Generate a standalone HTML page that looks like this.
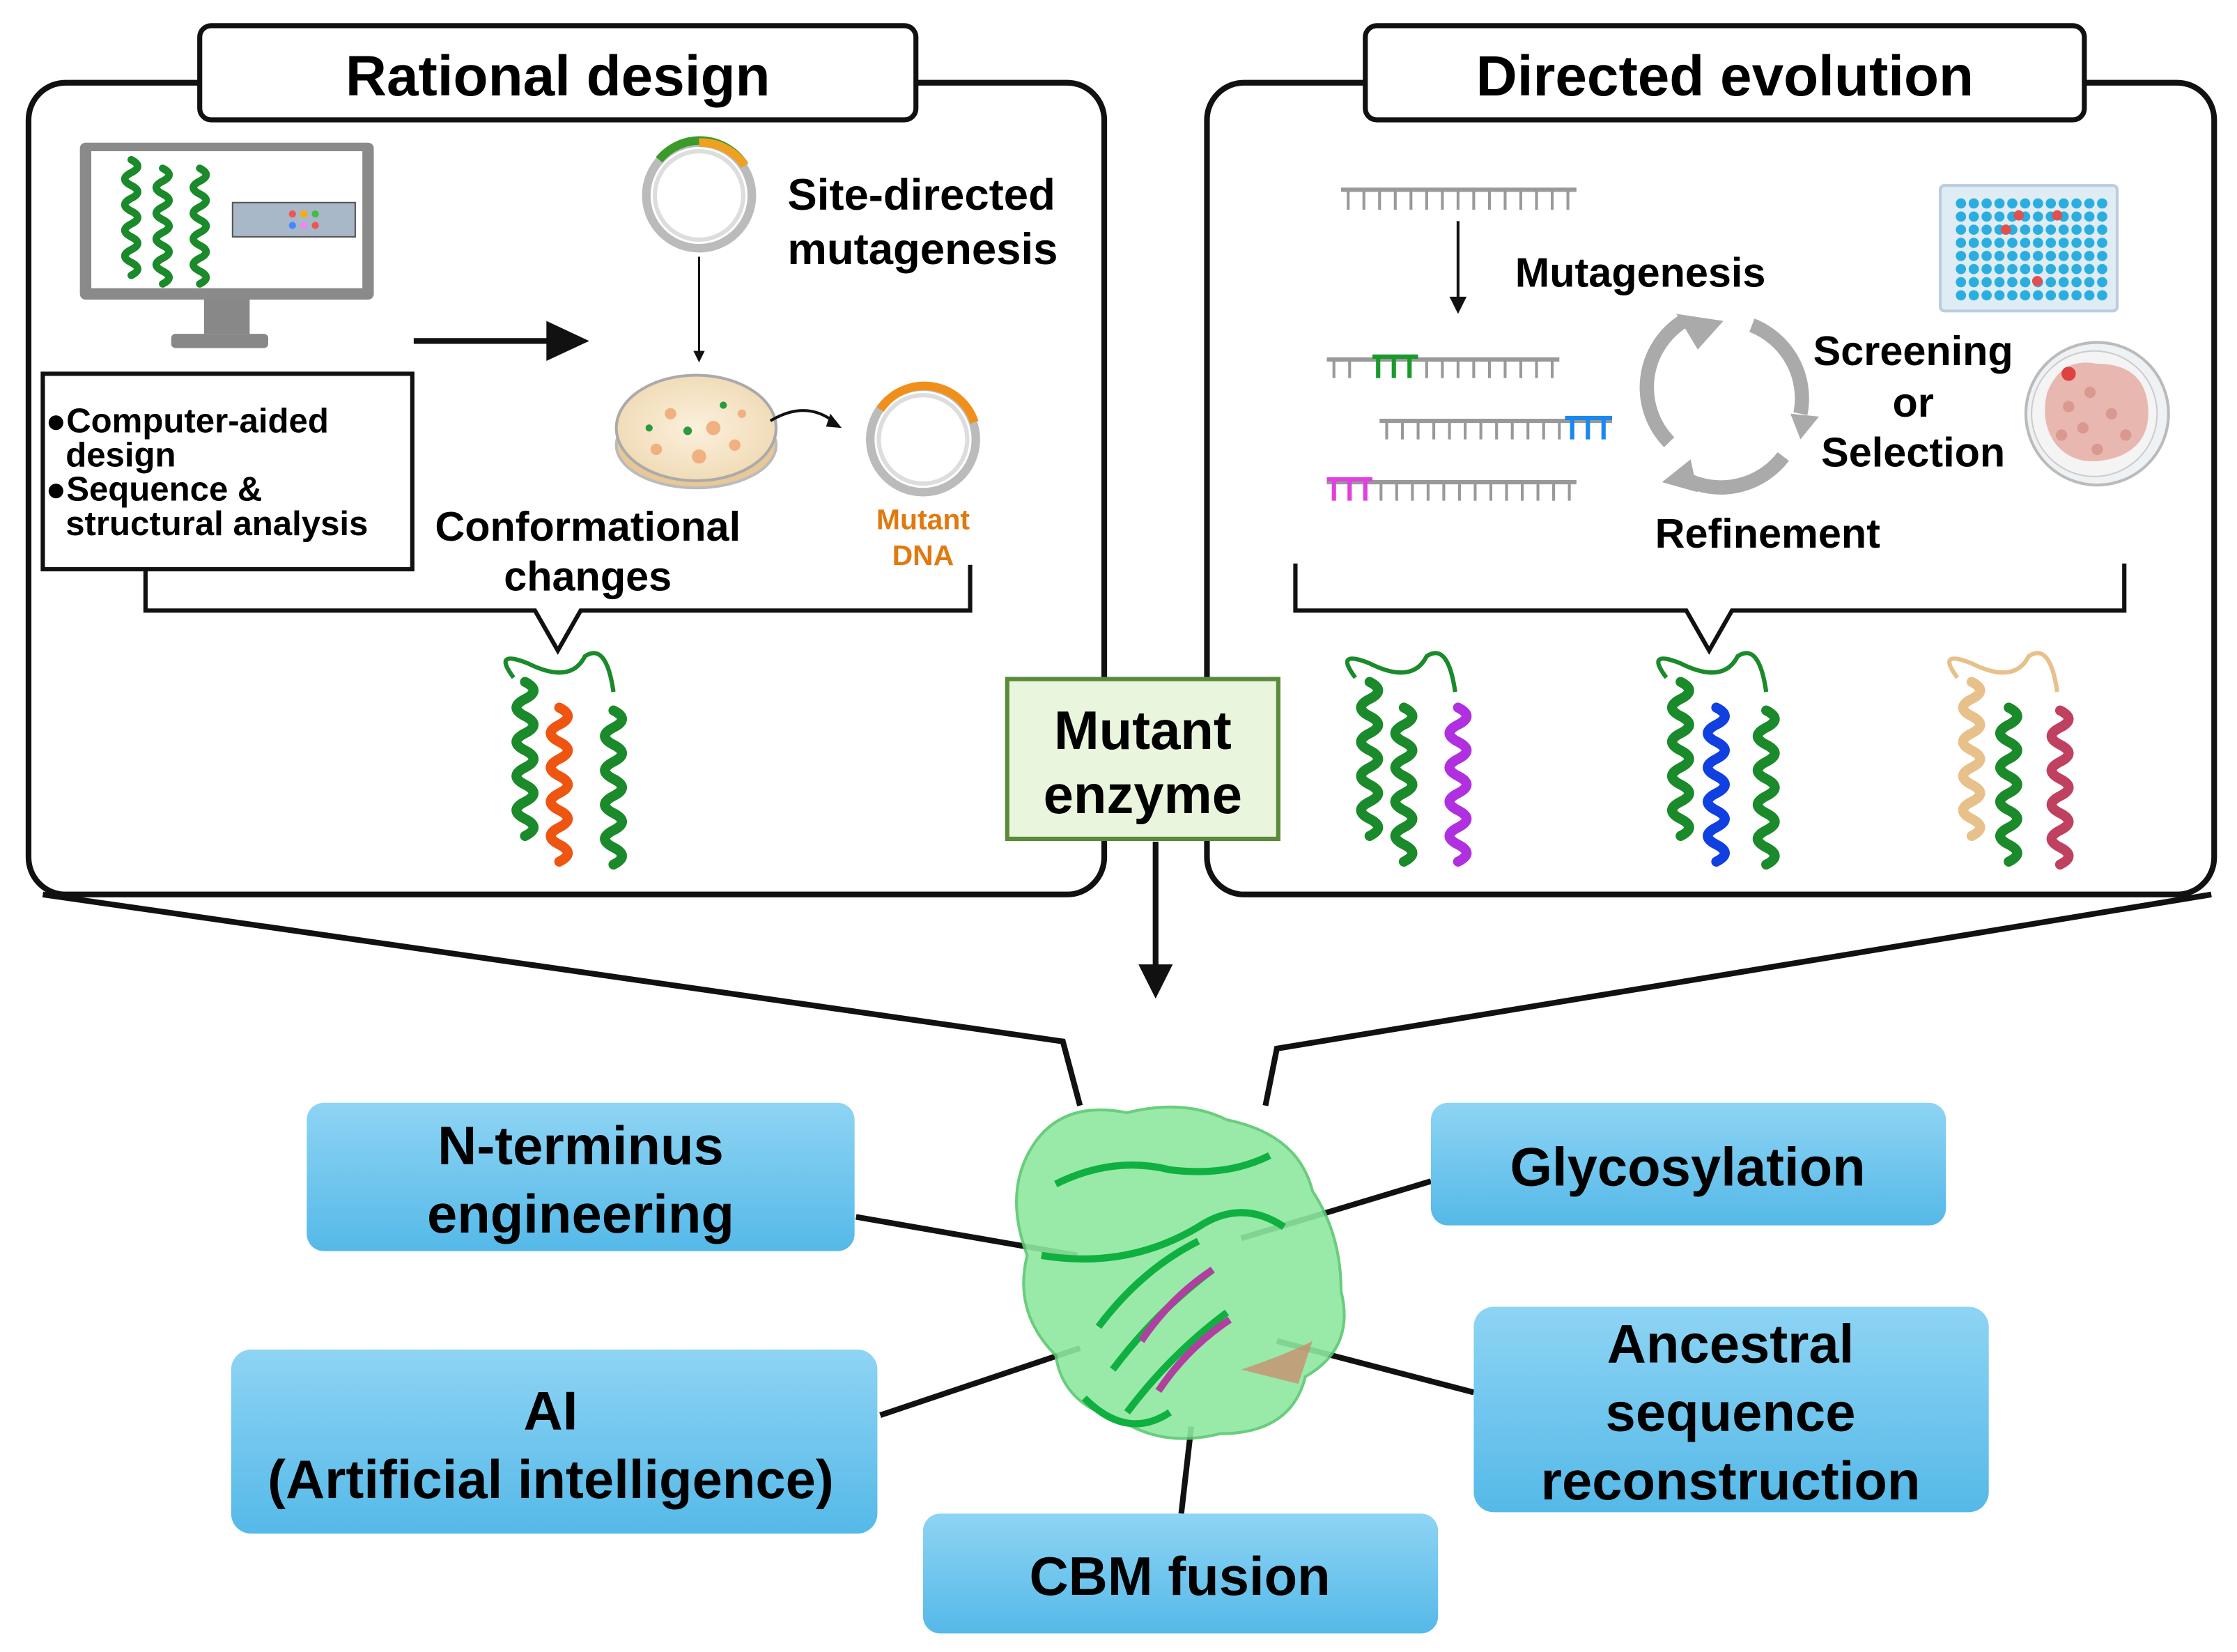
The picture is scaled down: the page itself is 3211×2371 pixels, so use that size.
<!DOCTYPE html>
<html><head><meta charset="utf-8">
<style>
html,body{margin:0;padding:0;background:#fff;}
svg{display:block;}
text{font-family:"Liberation Sans",sans-serif;font-weight:bold;}
</style></head>
<body>
<svg width="3211" height="2371" viewBox="0 0 1568 1158" xmlns="http://www.w3.org/2000/svg" preserveAspectRatio="none">
<defs>
<linearGradient id="bl" x1="0" y1="0" x2="0" y2="1">
<stop offset="0" stop-color="#8ed4f4"/><stop offset="1" stop-color="#55b9e8"/>
</linearGradient>
<radialGradient id="dish" cx="0.5" cy="0.5" r="0.5">
<stop offset="0" stop-color="#fbf0dc"/><stop offset="1" stop-color="#f1dcb8"/>
</radialGradient>
<g id="helix">
<path d="M0,0 q12,6 0,12 q-12,6 0,12 q12,6 0,12 q-12,6 0,12 q12,6 0,12 q-12,6 0,12 q12,6 0,12 q-12,6 0,12 q12,6 0,12" fill="none" stroke-width="7" stroke-linecap="round"/>
</g>
</defs>

<polyline points="30,627 745,730 757,775" fill="none" stroke="#111" stroke-width="4"/>
<polyline points="1550,627 895,735 887,775" fill="none" stroke="#111" stroke-width="4"/>

<rect x="20" y="58" width="754" height="569" rx="26" fill="#fff" stroke="#111" stroke-width="4"/>
<rect x="846" y="58" width="706" height="569" rx="26" fill="#fff" stroke="#111" stroke-width="4"/>
<rect x="140" y="18" width="502" height="66" rx="8" fill="#fff" stroke="#111" stroke-width="3.5"/>
<text x="391" y="67" font-size="40" text-anchor="middle">Rational design</text>
<rect x="957" y="18" width="504" height="66" rx="8" fill="#fff" stroke="#111" stroke-width="3.5"/>
<text x="1209" y="67" font-size="40" text-anchor="middle">Directed evolution</text>

<rect x="56" y="100" width="206" height="110" rx="4" fill="#8a8a8a"/>
<rect x="64" y="106" width="190" height="96" fill="#fff"/>
<rect x="143" y="210" width="32" height="24" fill="#888"/>
<rect x="120" y="234" width="68" height="10" rx="3" fill="#888"/>
<g stroke="#1a8a2a"><use href="#helix" transform="translate(92,112) scale(0.75)"/><use href="#helix" transform="translate(114,118) scale(0.75)"/><use href="#helix" transform="translate(140,118) scale(0.75)"/></g>
<rect x="163" y="142" width="86" height="24" fill="#a8b8c8" stroke="#555"/>
<g fill="#e55"><circle cx="205" cy="150" r="2.5"/><circle cx="213" cy="150" r="2.5" fill="#fa0"/><circle cx="221" cy="150" r="2.5" fill="#4b4"/><circle cx="205" cy="158" r="2.5" fill="#48f"/><circle cx="213" cy="158" r="2.5" fill="#e8e"/><circle cx="221" cy="158" r="2.5"/></g>

<line x1="290" y1="239" x2="385" y2="239" stroke="#111" stroke-width="4"/>
<polygon points="383,225 413,239 383,253" fill="#111"/>

<rect x="30" y="262" width="259" height="137" fill="#fff" stroke="#111" stroke-width="3"/>
<g font-size="24" font-weight="bold">
<text x="32" y="303">●Computer-aided</text>
<text x="46" y="327">design</text>
<text x="32" y="351">●Sequence &amp;</text>
<text x="46" y="375">structural analysis</text>
</g>

<circle cx="490" cy="137" r="37" fill="none" stroke="#bbb" stroke-width="6"/>
<circle cx="490" cy="137" r="31" fill="none" stroke="#ddd" stroke-width="3"/>
<path d="M462,112 A37,37 0 0 1 522,116" fill="none" stroke="#3a9a2a" stroke-width="6"/>
<path d="M490,100 A37,37 0 0 1 522,116" fill="none" stroke="#f0a020" stroke-width="6"/>
<text x="552" y="147" font-size="31">Site-directed</text>
<text x="552" y="185" font-size="31">mutagenesis</text>
<line x1="490" y1="180" x2="490" y2="248" stroke="#111" stroke-width="1.5"/>
<polygon points="486,246 490,254 494,246" fill="#111"/>

<ellipse cx="488" cy="312" rx="56" ry="30" fill="#e8c898" stroke="#bbb" stroke-width="2"/>
<ellipse cx="488" cy="300" rx="56" ry="37" fill="url(#dish)" stroke="#aaa" stroke-width="2"/>
<g fill="#f0b080"><circle cx="470" cy="290" r="4"/><circle cx="500" cy="300" r="5"/><circle cx="520" cy="290" r="3"/><circle cx="460" cy="315" r="4"/><circle cx="490" cy="320" r="5"/><circle cx="515" cy="312" r="4"/></g>
<g fill="#2a9a3a"><circle cx="482" cy="302" r="3"/><circle cx="455" cy="300" r="2.5"/><circle cx="507" cy="284" r="2.5"/></g>
<path d="M540,295 Q565,280 585,296" fill="none" stroke="#111" stroke-width="2"/>
<polygon points="582,290 590,300 579,299" fill="#111"/>

<circle cx="647" cy="308" r="37" fill="none" stroke="#bbb" stroke-width="6"/>
<circle cx="647" cy="308" r="31" fill="none" stroke="#ddd" stroke-width="3"/>
<path d="M617,287 A37,37 0 0 1 683,296" fill="none" stroke="#f0901a" stroke-width="6"/>
<text x="647" y="371" font-size="20" fill="#e07a10" text-anchor="middle">Mutant</text>
<text x="647" y="396" font-size="20" fill="#e07a10" text-anchor="middle">DNA</text>

<text x="412" y="379" font-size="29" text-anchor="middle">Conformational</text>
<text x="412" y="414" font-size="29" text-anchor="middle">changes</text>

<polyline points="102,400 102,428 375,428 391,456 407,428 680,428 680,396" fill="none" stroke="#111" stroke-width="3"/>
<g stroke="#1a8a2a"><use href="#helix" x="368" y="478"/><use href="#helix" x="430" y="498"/></g>
<g stroke="#ee5510"><use href="#helix" x="392" y="496"/></g>
<path d="M360,475 q-15,-20 10,-10 q30,15 40,-5 q15,-10 20,25" fill="none" stroke="#1a8a2a" stroke-width="3"/>

<g stroke="#999" stroke-width="3" fill="none">
<line x1="940" y1="133" x2="1105" y2="133"/>
<line x1="930" y1="252" x2="1093" y2="252"/>
<line x1="967" y1="295" x2="1130" y2="295"/>
<line x1="930" y1="338" x2="1105" y2="338"/>
</g>
<g stroke="#999" stroke-width="2">
<path d="M945,133v14M956,133v14M967,133v14M978,133v14M989,133v14M1000,133v14M1011,133v14M1022,133v14M1033,133v14M1044,133v14M1055,133v14M1066,133v14M1077,133v14M1088,133v14M1099,133v14"/>
<path d="M935,252v13M946,252v13M1000,252v13M1011,252v13M1022,252v13M1033,252v13M1044,252v13M1055,252v13M1066,252v13M1077,252v13M1088,252v13"/>
<path d="M972,295v13M983,295v13M994,295v13M1005,295v13M1016,295v13M1027,295v13M1038,295v13M1049,295v13M1060,295v13M1071,295v13M1082,295v13M1093,295v13"/>
<path d="M968,338v13M979,338v13M990,338v13M1001,338v13M1012,338v13M1023,338v13M1034,338v13M1045,338v13M1056,338v13M1067,338v13M1078,338v13M1089,338v13M1100,338v13"/>
</g>
<g stroke="#1a9a2a" stroke-width="3"><path d="M962,250h32M966,250v15M977,250v15M988,250v15"/></g>
<g stroke="#1a88ee" stroke-width="3"><path d="M1097,293h33M1102,293v15M1113,293v15M1124,293v15"/></g>
<g stroke="#e040e0" stroke-width="3"><path d="M930,336h32M935,336v15M946,336v15M957,336v15"/></g>
<line x1="1022" y1="155" x2="1022" y2="212" stroke="#111" stroke-width="2"/>
<polygon points="1016,208 1022,220 1028,208" fill="#111"/>
<text x="1062" y="201" font-size="29">Mutagenesis</text>

<g fill="none" stroke="#aaa" stroke-width="10">
<path d="M1170,310 A55,55 0 0 1 1180,225"/>
<path d="M1228,228 A55,55 0 0 1 1262,290"/>
<path d="M1250,320 A55,55 0 0 1 1180,335"/>
</g>
<polygon points="1175,220 1208,225 1190,245" fill="#aaa"/>
<polygon points="1255,290 1275,292 1262,308" fill="#aaa"/>
<polygon points="1185,322 1165,338 1190,345" fill="#aaa"/>
<text x="1341" y="256" font-size="29" text-anchor="middle">Screening</text>
<text x="1341" y="292" font-size="29" text-anchor="middle">or</text>
<text x="1341" y="327" font-size="29" text-anchor="middle">Selection</text>
<text x="1239" y="384" font-size="29" text-anchor="middle">Refinement</text>

<rect x="1360" y="130" width="124" height="88" rx="3" fill="#e0ecf4" stroke="#bcd" stroke-width="2"/>
<pattern id="wp" x="1370" y="138" width="9" height="9.2" patternUnits="userSpaceOnUse"><circle cx="4.5" cy="4.6" r="3.6" fill="#2aaee0"/></pattern>
<rect x="1370" y="138" width="108" height="74" fill="url(#wp)"/>
<circle cx="1415" cy="151" r="3.6" fill="#e05050"/><circle cx="1406" cy="161" r="3.6" fill="#e05050"/><circle cx="1442" cy="151" r="3.6" fill="#e05050"/><circle cx="1428" cy="197" r="3.6" fill="#e05050"/>

<circle cx="1470" cy="290" r="50" fill="#eef2f4" stroke="#bbb" stroke-width="2"/>
<circle cx="1468" cy="290" r="44" fill="#f4f4f4" stroke="#ccc"/>
<path d="M1435,275 q10,-25 35,-20 q30,0 35,25 q5,30 -20,40 q-30,10 -45,-10 q-10,-15 -5,-35z" fill="#e8b8b0"/>
<g fill="#d99890"><circle cx="1450" cy="285" r="4"/><circle cx="1465" cy="275" r="4"/><circle cx="1480" cy="290" r="4"/><circle cx="1460" cy="300" r="4"/><circle cx="1490" cy="305" r="4"/><circle cx="1470" cy="315" r="4"/><circle cx="1445" cy="305" r="4"/></g>
<circle cx="1450" cy="262" r="5" fill="#e04040"/>

<polyline points="908,395 908,428 1182,428 1198,456 1214,428 1489,428 1489,395" fill="none" stroke="#111" stroke-width="3"/>
<g stroke="#1a8a2a"><use href="#helix" x="960" y="478"/><use href="#helix" x="984" y="496"/>
<use href="#helix" x="1178" y="478"/><use href="#helix" x="1238" y="498"/><use href="#helix" x="1408" y="496"/></g>
<g stroke="#b030e0"><use href="#helix" x="1022" y="496"/></g>
<g stroke="#1040e0"><use href="#helix" x="1203" y="496"/></g>
<g stroke="#e8c08a"><use href="#helix" x="1382" y="478"/></g>
<g stroke="#c04060"><use href="#helix" x="1444" y="498"/></g>
<g fill="none" stroke-width="3"><path d="M950,475 q-15,-20 10,-10 q30,15 40,-5 q15,-10 20,25" stroke="#1a8a2a"/><path d="M1168,475 q-15,-20 10,-10 q30,15 40,-5 q15,-10 20,25" stroke="#1a8a2a"/><path d="M1372,475 q-15,-20 10,-10 q30,15 40,-5 q15,-10 20,25" stroke="#e8c08a"/></g>

<rect x="706" y="476" width="190" height="112" fill="#e9f5dc" stroke="#5a8a3a" stroke-width="3"/>
<text x="801" y="525" font-size="38" text-anchor="middle">Mutant</text>
<text x="801" y="570" font-size="38" text-anchor="middle">enzyme</text>
<line x1="810" y1="590" x2="810" y2="678" stroke="#111" stroke-width="4"/>
<polygon points="798,676 810,700 822,676" fill="#111"/>

<g stroke="#111" stroke-width="4">
<line x1="600" y1="853" x2="755" y2="880"/>
<line x1="1003" y1="828" x2="870" y2="868"/>
<line x1="617" y1="992" x2="757" y2="945"/>
<line x1="1033" y1="976" x2="895" y2="940"/>
<line x1="828" y1="1061" x2="835" y2="1000"/>
</g>

<path d="M720,810 q20,-40 70,-30 q40,-10 70,5 q50,10 60,50 q20,30 20,70 q10,40 -25,60 q-10,40 -60,40 q-40,10 -70,-10 q-40,-10 -45,-45 q-30,-30 -20,-70 q-15,-40 0,-70z" fill="#8ee8a0" stroke="#5ac870" stroke-width="2" opacity="0.9"/>
<g fill="none" stroke="#10b040" stroke-width="5">
<path d="M740,830 q40,-20 80,-10 q40,5 70,-10"/>
<path d="M730,880 q60,10 110,-20 q30,-20 60,0"/>
<path d="M770,930 q30,-40 70,-60 M780,960 q30,-40 70,-70 M790,990 q30,-40 70,-70"/>
<path d="M760,980 q30,30 60,10"/>
</g>
<g fill="none" stroke="#b040a0" stroke-width="5"><path d="M800,940 q20,-30 50,-50 M812,975 q20,-30 50,-50"/></g>
<path d="M870,960 q30,-10 50,-20 l-10,30z" fill="#c89070" opacity="0.8"/>

<rect x="215" y="773" width="384" height="104" rx="12" fill="url(#bl)"/>
<text x="407" y="816" font-size="38" text-anchor="middle">N-terminus</text>
<text x="407" y="864" font-size="38" text-anchor="middle">engineering</text>
<rect x="1003" y="773" width="361" height="86" rx="12" fill="url(#bl)"/>
<text x="1183" y="831" font-size="38" text-anchor="middle">Glycosylation</text>
<rect x="162" y="946" width="453" height="129" rx="14" fill="url(#bl)"/>
<text x="386" y="1002" font-size="38" text-anchor="middle">AI</text>
<text x="386" y="1050" font-size="38" text-anchor="middle">(Artificial intelligence)</text>
<rect x="1033" y="916" width="361" height="144" rx="14" fill="url(#bl)"/>
<text x="1213" y="955" font-size="38" text-anchor="middle">Ancestral</text>
<text x="1213" y="1003" font-size="38" text-anchor="middle">sequence</text>
<text x="1213" y="1051" font-size="38" text-anchor="middle">reconstruction</text>
<rect x="647" y="1061" width="361" height="84" rx="12" fill="url(#bl)"/>
<text x="827" y="1118" font-size="38" text-anchor="middle">CBM fusion</text>
</svg>
</body></html>
